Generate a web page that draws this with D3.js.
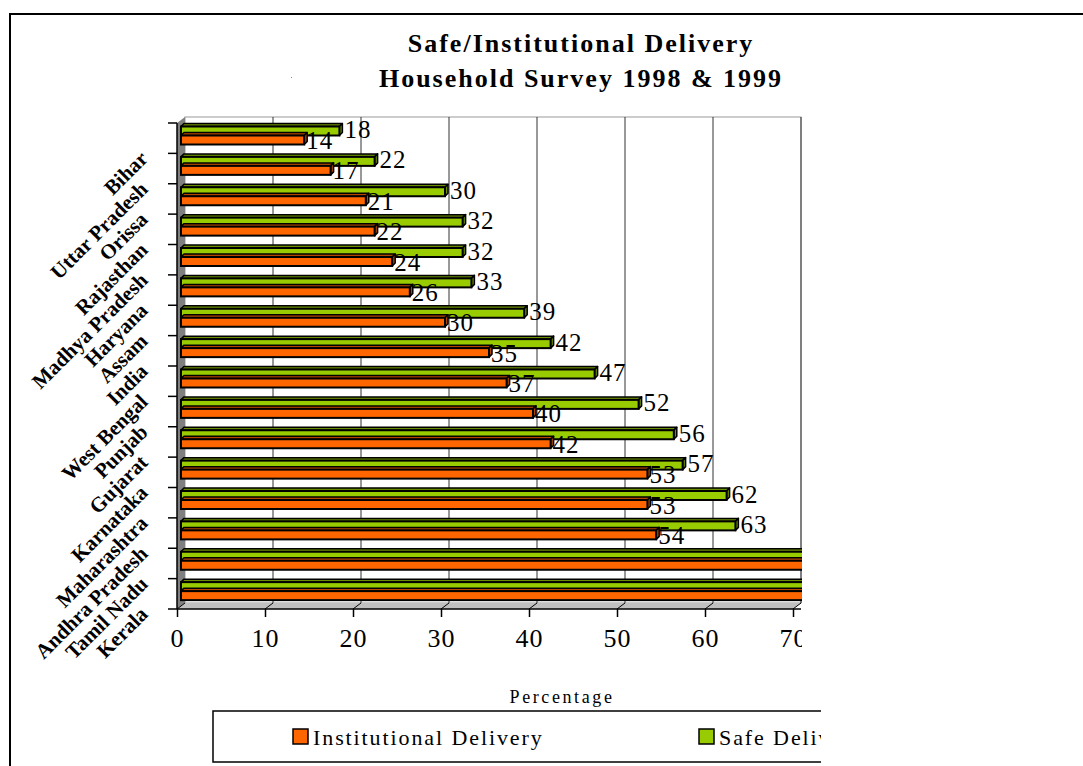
<!DOCTYPE html>
<html>
<head>
<meta charset="utf-8">
<script src="https://cdn.jsdelivr.net/npm/d3@7"></script>
<style>
	body { margin: 0; background: #fff; }
	text { font-family: "Liberation Serif", "Times New Roman", serif; }
</style>
</head>
<body>
<script>

// chart data (top to bottom)
var states = ['Bihar', 'Uttar Pradesh', 'Orissa', 'Rajasthan', 'Madhya Pradesh', 'Haryana',
	'Assam', 'India', 'West Bengal', 'Punjab', 'Gujarat', 'Karnataka', 'Maharashtra',
	'Andhra Pradesh', 'Tamil Nadu', 'Kerala'];
var institutional = [14, 17, 21, 22, 24, 26, 30, 35, 37, 40, 42, 53, 53, 54, 79, 93];
var safe = [18, 22, 30, 32, 32, 33, 39, 42, 47, 52, 56, 57, 62, 63, 84, 94];
var xTicks = [0, 10, 20, 30, 40, 50, 60, 70];
var seriesNames = ['Institutional Delivery', 'Safe Delivery'];
var titleLines = ['Safe/Institutional Delivery', 'Household Survey 1998 & 1999'];

var orange = '#ff6600',
	green = '#99cc00',
	depth = 8,      // depth of the 3d wall / floor
	bd = 3,         // depth of a bar
	xMax = 70;

var svg = d3.select('body')
	.append('svg')
	.attr('width', 1083)
	.attr('height', 766);

// outer chart frame (only top and left edges show)
svg.append('path')
	.attr('d', 'M10,766 L10,14 L1083,14')
	.attr('fill', 'none')
	.attr('stroke', 'black')
	.attr('stroke-width', 2);

// title
svg.selectAll('.title')
	.data(titleLines)
	.enter()
	.append('text')
	.attr('class', 'title')
	.attr('x', 581)
	.attr('y', function(d, i) { return 52 + i * 35; })
	.attr('text-anchor', 'middle')
	.attr('font-size', 26)
	.attr('font-weight', 'bold')
	.attr('letter-spacing', 2)
	.text(function(d) { return d; });

svg.append('rect')
	.attr('x', 291).attr('y', 77)
	.attr('width', 1).attr('height', 1)
	.attr('fill', '#888');

var x = d3.scaleLinear().domain([0, xMax]).range([177, 793]);
var y = d3.scaleBand().domain(states).range([123, 609]);

svg.append('clipPath')
	.attr('id', 'plotclip')
	.append('rect')
	.attr('x', 0).attr('y', 0)
	.attr('width', 802).attr('height', 766);

var plot = svg.append('g').attr('clip-path', 'url(#plotclip)');

var top0 = y.range()[0], bot0 = y.range()[1];

// back wall with gridlines
plot.append('rect')
	.attr('x', x(0) + depth).attr('y', top0 - 6)
	.attr('width', x(xMax) - x(0)).attr('height', bot0 - top0)
	.attr('fill', 'white')
	.attr('stroke', '#999')
	.attr('stroke-width', 1);

plot.selectAll('.grid')
	.data(xTicks.slice(1))
	.enter()
	.append('line')
	.attr('class', 'grid')
	.attr('x1', function(d) { return x(d) + depth; })
	.attr('x2', function(d) { return x(d) + depth; })
	.attr('y1', top0 - 6)
	.attr('y2', bot0 - 6)
	.attr('stroke', '#333')
	.attr('stroke-width', 1);

// side wall (gray) and floor
plot.append('polygon')
	.attr('points', [[x(0), top0], [x(0) + depth, top0 - 6], [x(0) + depth, bot0 - 6], [x(0), bot0]].join(' '))
	.attr('fill', '#808080');

plot.append('polygon')
	.attr('points', [[x(0), bot0], [x(0) + depth, bot0 - 6], [x(xMax) + depth, bot0 - 6], [x(xMax), bot0]].join(' '))
	.attr('fill', '#c0c0c0');

plot.selectAll('.floorline')
	.data(xTicks)
	.enter()
	.append('line')
	.attr('x1', function(d) { return x(d); })
	.attr('x2', function(d) { return x(d) + depth; })
	.attr('y1', bot0)
	.attr('y2', bot0 - 6)
	.attr('stroke', 'black')
	.attr('stroke-width', 1);

// bars: green (safe) above, orange (institutional) below
var rows = states.map(function(s, i) {
	return { name: s, inst: institutional[i], safe: safe[i] };
});

function bar3d(g, x0, x1, yt, h, fill, side) {
	// top face
	g.append('polygon')
		.attr('points', [[x0, yt], [x0 + bd, yt - bd], [x1 + bd, yt - bd], [x1, yt]].join(' '))
		.attr('fill', side)
		.attr('stroke', 'black')
		.attr('stroke-width', 1.5)
		.attr('stroke-linejoin', 'round');
	// right face
	g.append('polygon')
		.attr('points', [[x1, yt], [x1 + bd, yt - bd], [x1 + bd, yt + h - bd], [x1, yt + h]].join(' '))
		.attr('fill', side)
		.attr('stroke', 'black')
		.attr('stroke-width', 1.5)
		.attr('stroke-linejoin', 'round');
	// front face
	g.append('rect')
		.attr('x', x0).attr('y', yt)
		.attr('width', x1 - x0).attr('height', h)
		.attr('fill', fill)
		.attr('stroke', 'black')
		.attr('stroke-width', 2);
}

var bars = plot.selectAll('.row')
	.data(rows)
	.enter()
	.append('g')
	.attr('class', 'row');

bars.each(function(d) {
	var g = d3.select(this),
		y0 = y(d.name);
	bar3d(g, x(0) + 4, x(d.safe) + 4, y0 + 3.5, 9, green, '#6b8f00');
	bar3d(g, x(0) + 4, x(d.inst) + 4, y0 + 12.5, 9, orange, '#b34700');
});

// data labels (those past the axis end are cut off in the original)
plot.selectAll('.lblSafe')
	.data(rows.filter(function(d) { return d.safe <= xMax; }))
	.enter()
	.append('text')
	.attr('x', function(d) { return x(d.safe) + 9; })
	.attr('y', function(d) { return y(d.name) + 15; })
	.attr('font-size', 25)
	.attr('letter-spacing', 1)
	.text(function(d) { return d.safe; });

plot.selectAll('.lblInst')
	.data(rows.filter(function(d) { return d.inst <= xMax; }))
	.enter()
	.append('text')
	.attr('x', function(d) { return x(d.inst) + 6; })
	.attr('y', function(d) { return y(d.name) + 26; })
	.attr('font-size', 25)
	.attr('letter-spacing', 1)
	.text(function(d) { return d.inst; });

// left axis line and ticks at band edges
var edges = states.map(function(s) { return y(s); }).concat([bot0]);

plot.append('line')
	.attr('x1', x(0)).attr('x2', x(0))
	.attr('y1', top0).attr('y2', bot0)
	.attr('stroke', 'black')
	.attr('stroke-width', 1.5);

plot.selectAll('.ytick')
	.data(edges)
	.enter()
	.append('line')
	.attr('x1', x(0) - 9).attr('x2', x(0))
	.attr('y1', function(d) { return d; })
	.attr('y2', function(d) { return d; })
	.attr('stroke', 'black')
	.attr('stroke-width', 1.5);

// bottom axis
plot.append('line')
	.attr('x1', x(0)).attr('x2', x(xMax) + depth)
	.attr('y1', bot0).attr('y2', bot0)
	.attr('stroke', 'black')
	.attr('stroke-width', 1.5);

var xAxis = plot.append('g')
	.attr('transform', 'translate(0,' + bot0 + ')')
	.call(d3.axisBottom(x).tickValues(xTicks).tickSize(8).tickPadding(12));

xAxis.select('.domain').remove();
xAxis.selectAll('line').attr('stroke', 'black').attr('stroke-width', 1.5);
xAxis.selectAll('text')
	.attr('font-size', 26)
	.attr('font-family', '"Liberation Serif", "Times New Roman", serif')
	.attr('letter-spacing', 1)
	.attr('fill', 'black');

// category labels, rotated
svg.selectAll('.cat')
	.data(states)
	.enter()
	.append('text')
	.attr('class', 'cat')
	.attr('text-anchor', 'end')
	.attr('font-size', 21)
	.attr('font-weight', 'bold')
	.attr('transform', function(d) {
		return 'translate(149,' + (y(d) + 37) + ') rotate(-45)';
	})
	.text(function(d) { return d; });

// axis title
svg.append('text')
	.attr('x', 562)
	.attr('y', 703)
	.attr('text-anchor', 'middle')
	.attr('font-size', 18)
	.attr('letter-spacing', 2.6)
	.text('Percentage');

// legend, cut off on the right like the original
svg.append('clipPath')
	.attr('id', 'legclip')
	.append('rect')
	.attr('x', 0).attr('y', 0)
	.attr('width', 821).attr('height', 766);

var legend = svg.append('g').attr('clip-path', 'url(#legclip)');

legend.append('rect')
	.attr('x', 213).attr('y', 711)
	.attr('width', 700).attr('height', 51)
	.attr('fill', 'white')
	.attr('stroke', 'black')
	.attr('stroke-width', 1.5);

var items = legend.selectAll('.item')
	.data(seriesNames)
	.enter()
	.append('g')
	.attr('transform', function(d, i) { return 'translate(' + (293 + i * 406) + ',729)'; });

items.append('rect')
	.attr('width', 15).attr('height', 15)
	.attr('fill', function(d, i) { return i ? green : orange; })
	.attr('stroke', 'black')
	.attr('stroke-width', 1.5);

items.append('text')
	.attr('x', 20)
	.attr('y', 16)
	.attr('font-size', 22)
	.attr('letter-spacing', 1.9)
	.text(function(d) { return d; });

</script>
</body>
</html>
